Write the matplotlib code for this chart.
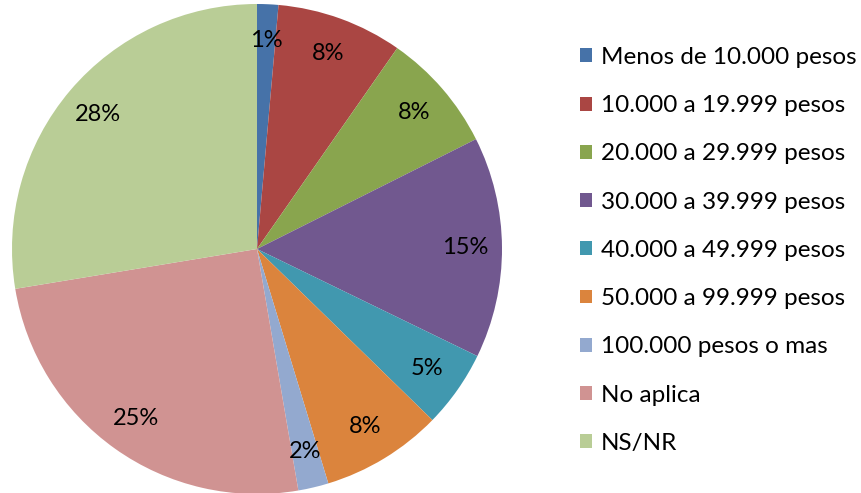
import matplotlib
matplotlib.use("Agg")
import matplotlib.pyplot as plt
from matplotlib.patches import Patch

categories = ["Menos de 10.000 pesos", "10.000 a 19.999 pesos", "20.000 a 29.999 pesos",
              "30.000 a 39.999 pesos", "40.000 a 49.999 pesos", "50.000 a 99.999 pesos",
              "100.000 pesos o mas", "No aplica", "NS/NR"]
values = [1.4, 8.3, 7.9, 14.6, 5.1, 8.0, 2.0, 25.1, 27.6]
colors = ["#4672A8", "#AA4643", "#89A54E", "#71588F", "#4198AF", "#DB843D",
          "#93A9CF", "#D09392", "#B9CD96"]

plt.rcParams['font.family'] = ['Lato', 'DejaVu Sans']

W, H = 861, 493
fig = plt.figure(figsize=(W / 100, H / 100), dpi=100)
cx, cy, r = 257, 249, 245
ax = fig.add_axes([(cx - r) / W, (H - cy - r) / H, 2 * r / W, 2 * r / H])
wedges, texts, autotexts = ax.pie(values, colors=colors, startangle=90, counterclock=False,
                                  radius=1, autopct='%1.0f%%', pctdistance=0.85,
                                  wedgeprops=dict(linewidth=0))
for t in autotexts:
    t.set_fontsize(17)
    t.set_color('black')
ax.set_xlim(-1, 1)
ax.set_ylim(-1, 1)
ax.set_aspect('equal')
ax.axis('off')

handles = [Patch(facecolor=c, edgecolor='none') for c in colors]
leg = fig.legend(handles, categories, loc='upper left',
                 bbox_to_anchor=(580 / W, 1 - 47 / H), frameon=False,
                 fontsize=17.5, handlelength=0.5, handleheight=0.5,
                 handletextpad=0.37, labelspacing=1.12, borderaxespad=0, borderpad=0)

fig.savefig("out.png", dpi=100)
